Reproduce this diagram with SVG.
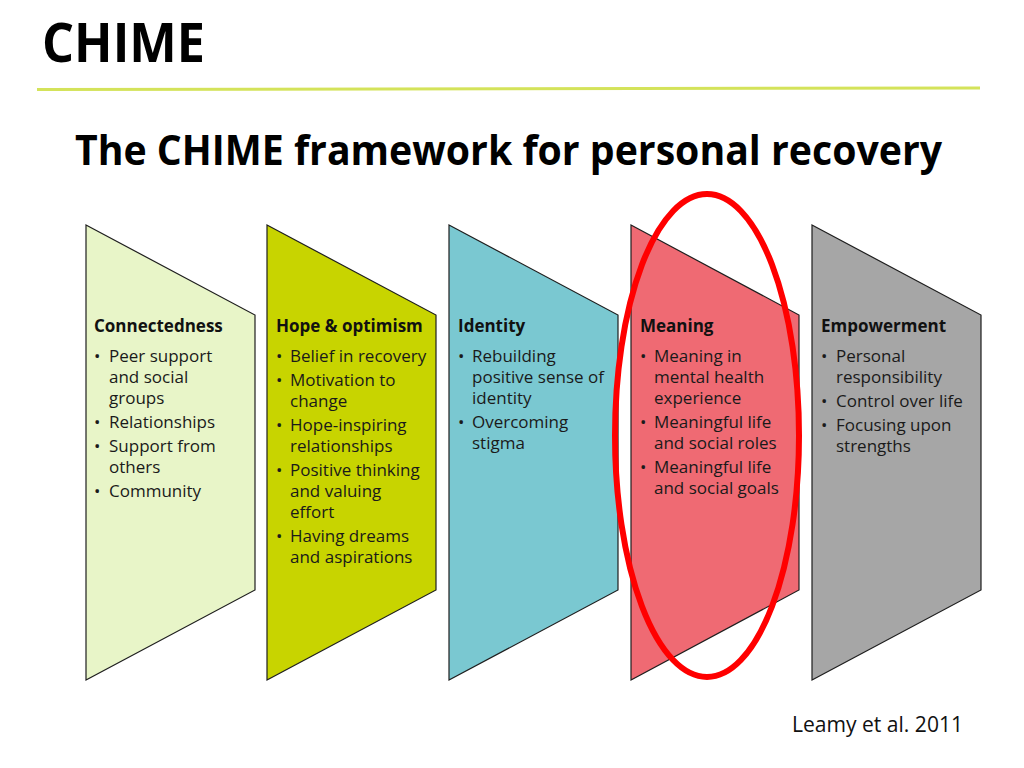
<svg xmlns="http://www.w3.org/2000/svg" width="1024" height="768" viewBox="0 0 1024 768">
<style>
.col{stroke:#1e1e1e;stroke-width:1.2;stroke-linejoin:miter}
.hd{font-family:"Open Sans","Liberation Sans",sans-serif;font-weight:700;font-size:17px;fill:#111}
.tx{font-family:"Open Sans","Liberation Sans",sans-serif;font-size:17px;fill:#1a1a1a}
</style>
<rect width="1024" height="768" fill="#ffffff"/>
<text x="42" y="62" font-family="'Open Sans','Liberation Sans',sans-serif" font-weight="700" font-size="53" fill="#000" textLength="163" lengthAdjust="spacingAndGlyphs">CHIME</text>
<line x1="37" y1="89.5" x2="980" y2="88" stroke="#d4e35a" stroke-width="3"/>
<text x="75" y="165" font-family="'Open Sans','Liberation Sans',sans-serif" font-weight="700" font-size="42" fill="#000" textLength="867" lengthAdjust="spacingAndGlyphs">The CHIME framework for personal recovery</text>

<g id="connectedness">
<path class="col" fill="#e8f5c8" d="M86,225 L255,315 L255,590 L86,680 Z"/>
<text class="hd" x="94" y="332">Connectedness</text>
<text class="tx"><tspan x="94" y="362">•</tspan><tspan x="109" y="362">Peer support</tspan><tspan x="109" y="383">and social</tspan><tspan x="109" y="404">groups</tspan><tspan x="94" y="428">•</tspan><tspan x="109" y="428">Relationships</tspan><tspan x="94" y="452">•</tspan><tspan x="109" y="452">Support from</tspan><tspan x="109" y="473">others</tspan><tspan x="94" y="497">•</tspan><tspan x="109" y="497">Community</tspan></text>
</g>

<g id="hope">
<path class="col" fill="#c8d400" d="M267,225 L436,315 L436,590 L267,680 Z"/>
<text class="hd" x="276" y="332">Hope &amp; optimism</text>
<text class="tx"><tspan x="276" y="362">•</tspan><tspan x="290" y="362">Belief in recovery</tspan><tspan x="276" y="386">•</tspan><tspan x="290" y="386">Motivation to</tspan><tspan x="290" y="407">change</tspan><tspan x="276" y="431">•</tspan><tspan x="290" y="431">Hope-inspiring</tspan><tspan x="290" y="452">relationships</tspan><tspan x="276" y="476">•</tspan><tspan x="290" y="476">Positive thinking</tspan><tspan x="290" y="497">and valuing</tspan><tspan x="290" y="518">effort</tspan><tspan x="276" y="542">•</tspan><tspan x="290" y="542">Having dreams</tspan><tspan x="290" y="563">and aspirations</tspan></text>
</g>

<g id="identity">
<path class="col" fill="#7ac8d1" d="M449,225 L618,315 L618,590 L449,680 Z"/>
<text class="hd" x="458" y="332">Identity</text>
<text class="tx"><tspan x="458" y="362">•</tspan><tspan x="472" y="362">Rebuilding</tspan><tspan x="472" y="383">positive sense of</tspan><tspan x="472" y="404">identity</tspan><tspan x="458" y="428">•</tspan><tspan x="472" y="428">Overcoming</tspan><tspan x="472" y="449">stigma</tspan></text>
</g>

<g id="meaning">
<path class="col" fill="#ef6a73" d="M631,225 L799,315 L799,590 L631,680 Z"/>
<text class="hd" x="640" y="332">Meaning</text>
<text class="tx"><tspan x="640" y="362">•</tspan><tspan x="654" y="362">Meaning in</tspan><tspan x="654" y="383">mental health</tspan><tspan x="654" y="404">experience</tspan><tspan x="640" y="428">•</tspan><tspan x="654" y="428">Meaningful life</tspan><tspan x="654" y="449">and social roles</tspan><tspan x="640" y="473">•</tspan><tspan x="654" y="473">Meaningful life</tspan><tspan x="654" y="494">and social goals</tspan></text>
</g>

<g id="empowerment">
<path class="col" fill="#a6a6a6" d="M812,225 L981,315 L981,590 L812,680 Z"/>
<text class="hd" x="821" y="332">Empowerment</text>
<text class="tx"><tspan x="821" y="362">•</tspan><tspan x="836" y="362">Personal</tspan><tspan x="836" y="383">responsibility</tspan><tspan x="821" y="407">•</tspan><tspan x="836" y="407">Control over life</tspan><tspan x="821" y="431">•</tspan><tspan x="836" y="431">Focusing upon</tspan><tspan x="836" y="452">strengths</tspan></text>
</g>

<g id="highlight">
<ellipse cx="707" cy="435.5" rx="92" ry="241.5" fill="none" stroke="#ff0000" stroke-width="6"/>
</g>
<g id="connectors"></g>

<text x="792" y="732" font-family="'Open Sans','Liberation Sans',sans-serif" font-size="21" fill="#111" textLength="171" lengthAdjust="spacingAndGlyphs">Leamy et al. 2011</text>
</svg>
